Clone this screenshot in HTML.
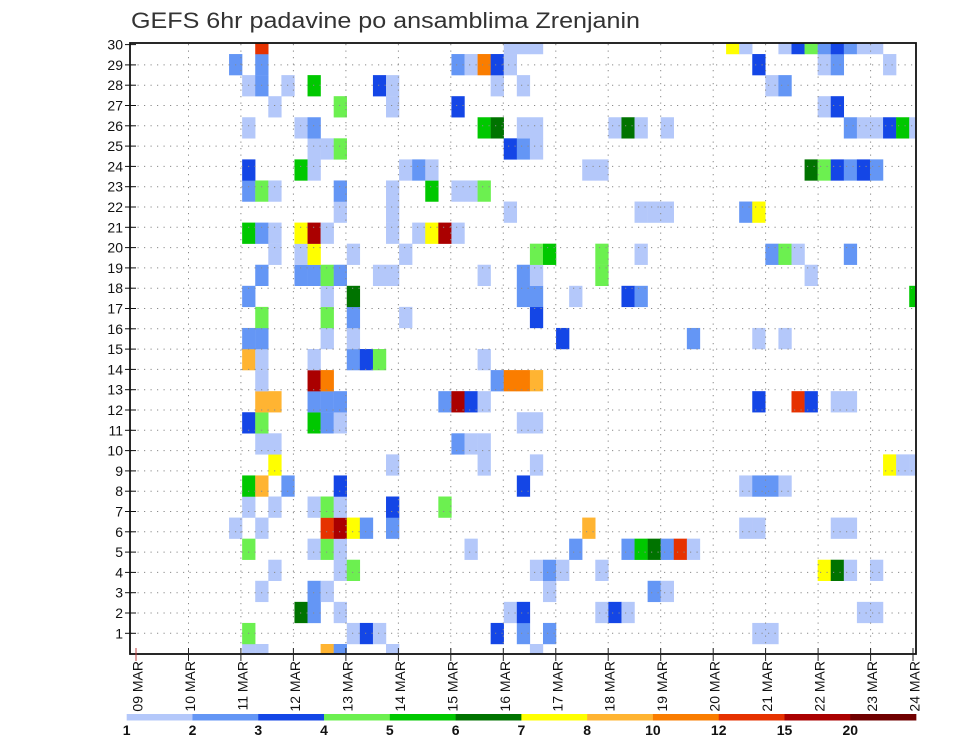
<!DOCTYPE html>
<html>
<head>
<meta charset="utf-8">
<style>
  html, body { margin: 0; padding: 0; background: #fff; }
  svg { display: block; font-family: "Liberation Sans", "DejaVu Sans", sans-serif; }
</style>
</head>
<body>
<svg id="chart" width="960" height="742" viewBox="0 0 960 742" xmlns="http://www.w3.org/2000/svg">
  <rect x="0" y="0" width="960" height="742" fill="#ffffff"/>
  <text x="131" y="28" font-size="22" fill="#333" textLength="509" lengthAdjust="spacingAndGlyphs">GEFS 6hr padavine po ansamblima Zrenjanin</text>
  <defs>
    <clipPath id="plotClip"><rect x="130" y="43" width="786" height="611"/></clipPath>
  </defs>
  <g id="cells" clip-path="url(#plotClip)"></g>
  <g id="grid"></g>
  <rect x="130" y="43" width="786" height="611" fill="none" stroke="#111" stroke-width="1.8"/>
  <g id="yaxis"></g>
  <g id="xaxis"></g>
  <g id="legend"></g>
</svg>
<script>
// ---- chart data ----
const dayLabels = ["09 MAR","10 MAR","11 MAR","12 MAR","13 MAR","14 MAR","15 MAR","16 MAR","17 MAR","18 MAR","19 MAR","20 MAR","21 MAR","22 MAR","23 MAR","24 MAR"];
const memberLabels = [1,2,3,4,5,6,7,8,9,10,11,12,13,14,15,16,17,18,19,20,21,22,23,24,25,26,27,28,29,30];
const levelLabels = [1,2,3,4,5,6,7,8,10,12,15,20];
const levelColors = ["#b4c8fa","#6496f5","#1446e6","#6cf050","#00c800","#007300","#ffff00","#ffb432","#fa7d00","#e63200","#aa0000","#700000"];
// 6-hourly time-step indices (0 = 09 MAR 00Z) per grid row (row 0 = bottom)
const stepsByRow = [
  [8,9,14,15,19,30],
  [8,16,17,18,27,29,31,47,48],
  [12,13,15,28,29,35,36,37,55,56],
  [9,13,14,31,39,40],
  [10,15,16,30,31,32,35,52,53,54,56],
  [8,13,14,15,25,33,37,38,39,40,41,42],
  [7,9,14,15,16,17,19,34,46,47,53,54],
  [8,10,13,14,15,19,23],
  [8,9,11,15,29,46,47,48,49],
  [10,19,26,30,57,58,59],
  [9,10,24,25,26],
  [8,9,13,14,15,29,30],
  [9,10,13,14,15,23,24,25,26,47,50,51,53,54],
  [9,13,14,27,28,29,30],
  [8,9,13,16,17,18,26],
  [8,9,14,16,32,42,47,49],
  [9,14,16,20,30],
  [8,14,16,29,30,33,37,38,59],
  [9,12,13,14,15,18,19,26,29,30,35,51],
  [10,12,13,16,20,30,31,35,38,48,49,50,54],
  [8,9,10,12,13,14,19,21,22,23,24],
  [15,19,28,38,39,40,46,47],
  [8,9,10,15,19,22,24,25,26],
  [8,12,13,20,21,22,34,35,51,52,53,54,55,56],
  [13,14,15,28,29,30],
  [8,12,13,26,27,29,30,36,37,38,40,54,55,56,57,58,59],
  [10,15,19,24,52,53],
  [8,9,11,13,18,19,27,29,48,49],
  [7,9,24,25,26,27,28,47,52,53,57],
  [9,28,29,30,45,46,49,50,51,52,53,54,55,56]
];
// precipitation (mm / 6h) matching stepsByRow
const valuesByRow = [
  [1.5,1.5,9,2.5,1.5,1.5],
  [4.5,1.5,3.5,1.5,3.5,2.5,2.5,1.5,1.5],
  [6.5,2.5,1.5,1.5,3.5,1.5,3.5,1.5,1.5,1.5],
  [1.5,2.5,1.5,1.5,2.5,1.5],
  [1.5,1.5,4.5,1.5,2.5,1.5,1.5,7.5,6.5,1.5,1.5],
  [4.5,1.5,4.5,1.5,1.5,2.5,2.5,5.5,6.5,2.5,13.5,1.5],
  [1.5,1.5,13.5,17,7.5,2.5,2.5,9,1.5,1.5,1.5,1.5],
  [1.5,1.5,1.5,4.5,1.5,3.5,4.5],
  [5.5,9,2.5,3.5,3.5,1.5,2.5,2.5,1.5],
  [7.5,1.5,1.5,1.5,7.5,1.5,1.5],
  [1.5,1.5,2.5,1.5,1.5],
  [3.5,4.5,5.5,2.5,1.5,1.5,1.5],
  [9,9,2.5,2.5,2.5,2.5,17,3.5,1.5,3.5,13.5,3.5,1.5,1.5],
  [1.5,17,11,2.5,11,11,9],
  [9,1.5,1.5,2.5,3.5,4.5,1.5],
  [2.5,2.5,1.5,1.5,3.5,2.5,1.5,1.5],
  [4.5,4.5,2.5,1.5,3.5],
  [2.5,1.5,6.5,2.5,2.5,1.5,3.5,2.5,5.5],
  [2.5,2.5,2.5,4.5,2.5,1.5,1.5,1.5,2.5,1.5,4.5,1.5],
  [1.5,1.5,7.5,1.5,1.5,4.5,5.5,4.5,1.5,2.5,4.5,1.5,2.5],
  [5.5,2.5,1.5,7.5,17,1.5,1.5,1.5,7.5,17,1.5],
  [1.5,1.5,1.5,1.5,1.5,1.5,2.5,7.5],
  [2.5,4.5,1.5,2.5,1.5,5.5,1.5,1.5,4.5],
  [3.5,5.5,1.5,1.5,2.5,1.5,1.5,1.5,6.5,4.5,3.5,2.5,3.5,2.5],
  [1.5,1.5,4.5,3.5,2.5,1.5],
  [1.5,1.5,2.5,5.5,6.5,1.5,1.5,1.5,6.5,1.5,1.5,2.5,1.5,1.5,3.5,5.5,1.5],
  [1.5,4.5,1.5,3.5,1.5,3.5],
  [1.5,2.5,1.5,5.5,3.5,1.5,1.5,1.5,1.5,2.5],
  [2.5,2.5,2.5,1.5,11,3.5,1.5,3.5,1.5,2.5,1.5],
  [13.5,1.5,1.5,1.5,7.5,1.5,1.5,3.5,4.5,2.5,3.5,2.5,1.5,1.5]
];

// ---- axis functions ----
const NS = "http://www.w3.org/2000/svg";
const STEP_W = 13.08, ROW_H = 21.07;
function xStep(k) { return 137.5 + STEP_W * k; }
function yRowTop(n) { return 644 - ROW_H * n; }
function xDay(d) { return 136 + 52.47 * d; }
function yMember(m) { return 653.6 - 20.3 * m; }
function colorFor(v) {
  let idx = 0;
  for (let i = 0; i < levelLabels.length; i++) if (v >= levelLabels[i]) idx = i;
  return levelColors[idx];
}
function mk(tag, attrs, parent) {
  const el = document.createElementNS(NS, tag);
  for (const k in attrs) el.setAttribute(k, attrs[k]);
  parent.appendChild(el);
  return el;
}

// ---- cells ----
const gCells = document.getElementById("cells");
for (let n = 0; n < stepsByRow.length; n++) {
  const steps = stepsByRow[n], vals = valuesByRow[n];
  for (let i = 0; i < steps.length; i++) {
    const r = mk("rect", {x: xStep(steps[i]).toFixed(2), y: yRowTop(n).toFixed(2), width: (STEP_W + 0.2).toFixed(2), height: (ROW_H + 0.2).toFixed(2), fill: colorFor(vals[i])}, gCells);
    
    
  }
}

// ---- grid ----
const gGrid = document.getElementById("grid");
for (let m = 1; m < memberLabels.length; m++) {
  const y = yMember(memberLabels[m - 1]).toFixed(1);
  const l = mk("line", {x1: 131, x2: 915, y1: y, y2: y, stroke: "#8a8a8a", "stroke-width": 1, "stroke-dasharray": "1.2 5.3"}, gGrid);
  
  
}
for (let d = 1; d < dayLabels.length - 1; d++) {
  const x = xDay(d).toFixed(1);
  const l = mk("line", {x1: x, x2: x, y1: 44, y2: 653, stroke: "#8a8a8a", "stroke-width": 1, "stroke-dasharray": "1.2 5.3"}, gGrid);
  
  
}

// ---- y axis ----
const gY = document.getElementById("yaxis");
for (let i = 0; i < memberLabels.length; i++) {
  const y = yMember(memberLabels[i]);
  const t = mk("line", {x1: 125, x2: 136, y1: y.toFixed(1), y2: y.toFixed(1), stroke: "#111", "stroke-width": 1}, gY);
  
  
  const tx = mk("text", {x: 123, y: (y + 5).toFixed(1), "font-size": 14, "text-anchor": "end", fill: "#111"}, gY);
  tx.textContent = memberLabels[i];
  
  
}

// ---- x axis ----
const gX = document.getElementById("xaxis");
for (let d = 0; d < dayLabels.length; d++) {
  const x = d === dayLabels.length - 1 ? 913 : xDay(d);
  const t = mk("line", {x1: x.toFixed(1), x2: x.toFixed(1), y1: 648, y2: 661, stroke: d === 0 ? "#c04040" : "#222", "stroke-width": 1}, gX);
  
  
  const bx = x + 6.5;
  const tx = mk("text", {x: bx.toFixed(1), y: 661, "font-size": 14, "text-anchor": "end", fill: "#111", transform: "rotate(-90 " + bx.toFixed(1) + " 661)"}, gX);
  tx.textContent = dayLabels[d];
  
  
}

// ---- legend ----
const gL = document.getElementById("legend");
const LEG_X0 = 126.7, LEG_W = 65.78;
for (let i = 0; i < levelLabels.length; i++) {
  const r = mk("rect", {x: (LEG_X0 + LEG_W * i).toFixed(2), y: 714, width: (LEG_W + 0.3).toFixed(2), height: 6.5, fill: levelColors[i]}, gL);
  
  
  const tx = mk("text", {x: (LEG_X0 + LEG_W * i).toFixed(1), y: 735, "font-size": 14, "font-weight": "bold", "text-anchor": "middle", fill: "#111"}, gL);
  tx.textContent = levelLabels[i];
  
  
}
</script>
</body>
</html>
